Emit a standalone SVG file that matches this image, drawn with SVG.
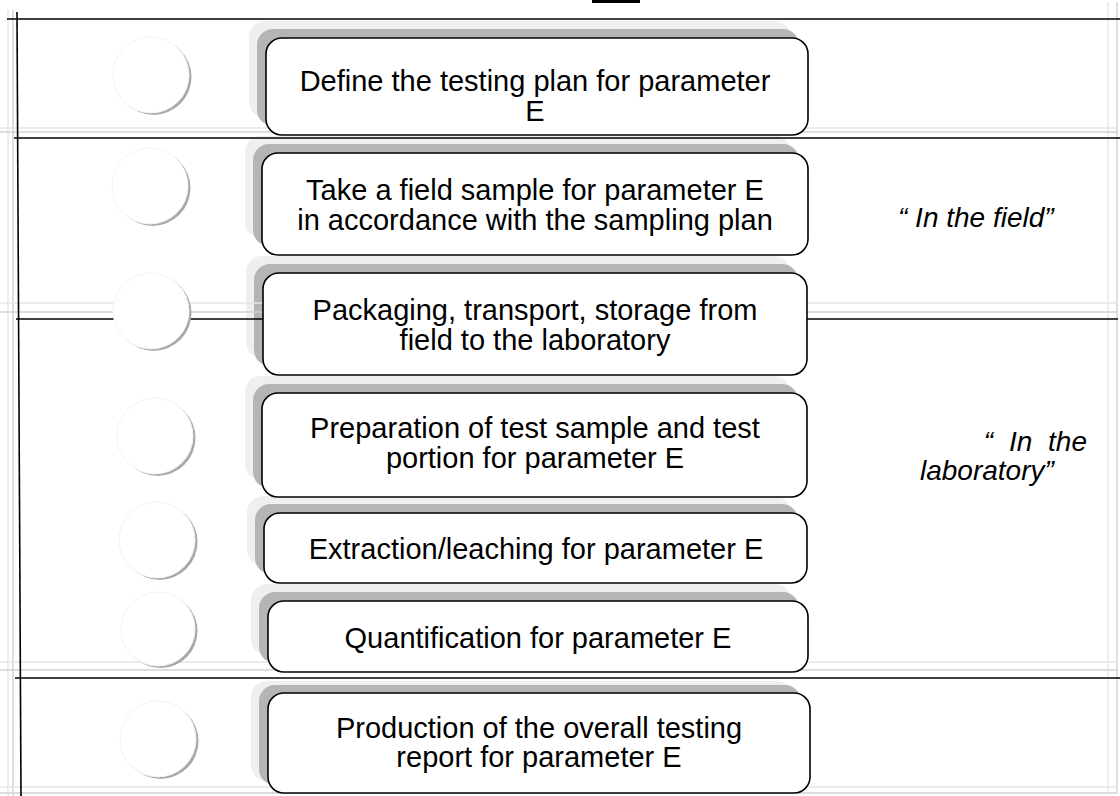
<svg xmlns="http://www.w3.org/2000/svg" width="1120" height="796" viewBox="0 0 1120 796">
<defs>
<style>
.frame{stroke:#000;stroke-width:1.6;fill:none}
.faint{stroke:#d2d2d2;stroke-width:1.4;fill:none}
.faint2{stroke:#e6e6e6;stroke-width:1.4;fill:none}
.sh1{fill:#efefef}
.sh2{fill:#b5b5b5}
.box{fill:#fff;stroke:#000;stroke-width:1.6}
.csh{fill:#a8a8a8}
.cir{fill:#fff;stroke:#f3f3f3;stroke-width:1}
.t{font-family:"Liberation Sans",Arial,sans-serif;font-size:29px;fill:#000;text-anchor:middle}
.it{font-family:"Liberation Sans",Arial,sans-serif;font-size:28px;font-style:italic;fill:#000}
</style>
</defs>
<rect width="1120" height="796" fill="#fff"/>
<rect x="592" y="0" width="48" height="3" fill="#000"/>
<g id="shadows">
<rect class="sh1" x="249" y="21" width="542" height="97" rx="16"/>
<rect class="sh2" x="257" y="29" width="542" height="97" rx="16"/>
<rect class="sh1" x="245" y="136" width="546" height="102" rx="16"/>
<rect class="sh2" x="253" y="144" width="546" height="102" rx="16"/>
<rect class="sh1" x="246" y="256" width="544" height="102" rx="16"/>
<rect class="sh2" x="254" y="264" width="544" height="102" rx="16"/>
<rect class="sh1" x="245" y="376" width="545" height="104" rx="16"/>
<rect class="sh2" x="253" y="384" width="545" height="104" rx="16"/>
<rect class="sh1" x="247" y="496" width="543" height="70" rx="16"/>
<rect class="sh2" x="255" y="504" width="543" height="70" rx="16"/>
<rect class="sh1" x="251" y="584" width="540" height="71" rx="16"/>
<rect class="sh2" x="259" y="592" width="540" height="71" rx="16"/>
<rect class="sh1" x="251" y="681" width="542" height="100" rx="16"/>
<rect class="sh2" x="259" y="685" width="542" height="100" rx="16"/>
</g>
<g id="table">
<line class="faint2" x1="8" y1="10" x2="8" y2="796"/>
<line class="faint" x1="13" y1="10" x2="13" y2="796"/>
<line class="faint2" x1="1108" y1="2" x2="1108" y2="792"/>
<line class="faint" x1="1117" y1="2" x2="1117" y2="792"/>
<line class="faint2" x1="0" y1="128" x2="1118" y2="128"/>
<line class="faint" x1="0" y1="132" x2="1118" y2="132"/>
<line class="faint2" x1="0" y1="303" x2="1118" y2="303"/>
<line class="faint" x1="0" y1="312" x2="1118" y2="312"/>
<line class="faint2" x1="0" y1="662" x2="1118" y2="662"/>
<line class="faint" x1="0" y1="670" x2="1118" y2="670"/>
<line class="faint2" x1="0" y1="787" x2="1118" y2="787"/>
<line class="faint" x1="0" y1="793" x2="1118" y2="793"/>
<line class="frame" x1="7" y1="19" x2="1120" y2="19"/>
<line class="frame" x1="17" y1="12" x2="21" y2="796"/>
<line class="frame" x1="14" y1="138" x2="1120" y2="138"/>
<line class="frame" x1="16" y1="319" x2="1118" y2="319"/>
<line class="frame" x1="15" y1="678" x2="1120" y2="678"/>
</g>
<g id="markers">
<g id="c1"><circle class="csh" cx="153.5" cy="77" r="38"/><circle class="cir" cx="151" cy="75" r="38"/></g>
<g id="c2"><circle class="csh" cx="152.5" cy="188" r="38"/><circle class="cir" cx="150" cy="186" r="38"/></g>
<g id="c3"><circle class="csh" cx="153.5" cy="313" r="38"/><circle class="cir" cx="151" cy="311" r="38"/></g>
<g id="c4"><circle class="csh" cx="157.5" cy="438" r="38"/><circle class="cir" cx="155" cy="436" r="38"/></g>
<g id="c5"><circle class="csh" cx="159.5" cy="542" r="38"/><circle class="cir" cx="157" cy="540" r="38"/></g>
<g id="c6"><circle class="csh" cx="160.5" cy="631" r="37"/><circle class="cir" cx="158" cy="629" r="37"/></g>
<g id="c7"><circle class="csh" cx="160.5" cy="741" r="38"/><circle class="cir" cx="158" cy="739" r="38"/></g>
</g>
<g id="connectors"></g>
<g id="n1">
<rect class="box" x="266" y="38" width="542" height="97" rx="16"/>
<text class="t" x="535" y="91">Define the testing plan for parameter</text>
<text class="t" x="535" y="121">E</text>
</g>
<g id="n2">
<rect class="box" x="262" y="153" width="546" height="102" rx="16"/>
<text class="t" x="535" y="200">Take a field sample for parameter E</text>
<text class="t" x="535" y="230">in accordance with the sampling plan</text>
</g>
<g id="n3">
<rect class="box" x="263" y="273" width="544" height="102" rx="16"/>
<text class="t" x="535" y="320">Packaging, transport, storage from</text>
<text class="t" x="535" y="350">field to the laboratory</text>
</g>
<g id="n4">
<rect class="box" x="262" y="393" width="545" height="104" rx="16"/>
<text class="t" x="535" y="438">Preparation of test sample and test</text>
<text class="t" x="535" y="468">portion for parameter E</text>
</g>
<g id="n5">
<rect class="box" x="264" y="513" width="543" height="70" rx="16"/>
<text class="t" x="536" y="559">Extraction/leaching for parameter E</text>
</g>
<g id="n6">
<rect class="box" x="268" y="601" width="540" height="71" rx="16"/>
<text class="t" x="538" y="648">Quantification for parameter E</text>
</g>
<g id="n7">
<rect class="box" x="268" y="693" width="542" height="100" rx="16"/>
<text class="t" x="539" y="738">Production of the overall testing</text>
<text class="t" x="539" y="767">report for parameter E</text>
</g>
<g id="labels">
<text id="field" class="it" x="898" y="227">“ In the field”</text>
<text id="lab1" class="it" x="1087" y="451" text-anchor="end" word-spacing="8">“ In the</text>
<text id="lab2" class="it" x="920" y="480">laboratory”</text>
</g>
</svg>
